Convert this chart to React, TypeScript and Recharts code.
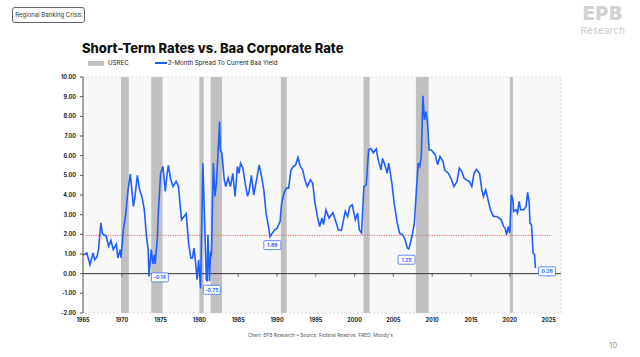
import React from "react";
import {
  ComposedChart,
  Line,
  XAxis,
  YAxis,
  CartesianGrid,
  ReferenceArea,
  ReferenceLine,
  ReferenceDot,
} from "recharts";

const years: number[] = [
  1965.0, 1965.3, 1965.5, 1965.9, 1966.3, 1966.5, 1966.8, 1967.0, 1967.3, 1967.5,
  1968.0, 1968.3, 1968.6, 1968.9, 1969.3, 1969.5, 1969.8, 1969.9, 1970.2, 1970.5,
  1970.8, 1971.1, 1971.5, 1971.7, 1972.0, 1972.3, 1972.6, 1972.9, 1973.2, 1973.4,
  1973.5, 1973.8, 1974.0, 1974.2, 1974.3, 1974.6, 1974.7, 1975.0, 1975.3, 1975.6,
  1975.8, 1976.0, 1976.3, 1976.6, 1977.0, 1977.3, 1977.5, 1977.7, 1978.0, 1978.3,
  1978.6, 1978.9, 1979.1, 1979.3, 1979.5, 1979.7, 1979.9, 1980.15, 1980.45, 1980.6,
  1980.9, 1981.0, 1981.1, 1981.3, 1981.45, 1981.55, 1981.8, 1982.0, 1982.2, 1982.6,
  1982.7, 1982.9, 1983.2, 1983.4, 1983.7, 1984.0, 1984.3, 1984.6, 1984.9, 1985.1,
  1985.3, 1985.6, 1985.9, 1986.2, 1986.4, 1986.7, 1987.0, 1987.4, 1987.7, 1988.0,
  1988.3, 1988.6, 1988.9, 1989.1, 1989.4, 1989.7, 1990.0, 1990.4, 1990.6, 1990.9,
  1991.2, 1991.5, 1991.8, 1992.1, 1992.4, 1992.7, 1993.0, 1993.3, 1993.6, 1993.9,
  1994.3, 1994.6, 1994.9, 1995.2, 1995.5, 1995.8, 1996.0, 1996.3, 1996.7, 1997.2,
  1997.5, 1997.9, 1998.3, 1998.8, 1999.1, 1999.4, 1999.7, 2000.1, 2000.4, 2000.6,
  2000.9, 2001.2, 2001.5, 2001.8, 2002.1, 2002.4, 2002.8, 2003.0, 2003.4, 2003.6,
  2003.9, 2004.2, 2004.4, 2004.8, 2005.1, 2005.5, 2005.8, 2006.2, 2006.5, 2006.8,
  2007.0, 2007.4, 2007.7, 2008.0, 2008.2, 2008.4, 2008.6, 2008.8, 2009.0, 2009.2,
  2009.4, 2009.6, 2009.9, 2010.4, 2010.7, 2011.0, 2011.4, 2011.6, 2012.1, 2012.5,
  2012.8, 2013.2, 2013.5, 2013.8, 2014.1, 2014.4, 2014.8, 2015.1, 2015.4, 2015.7,
  2016.1, 2016.4, 2016.6, 2016.9, 2017.2, 2017.5, 2017.9, 2018.3, 2018.6, 2018.9,
  2019.2, 2019.4, 2019.6, 2019.8, 2020.0, 2020.2, 2020.4, 2020.5, 2020.8, 2021.0,
  2021.2, 2021.4, 2021.8, 2022.1, 2022.3, 2022.5, 2022.6, 2022.8, 2023.0, 2023.2,
  2023.3,
];

const spread: number[] = [
  0.96, 1.0, 1.05, 0.46, 1.05, 0.71, 0.85, 1.22, 2.58, 2.03,
  1.9, 1.39, 1.69, 1.22, 1.5, 0.8, 1.22, 0.8, 2.23, 3.0,
  4.26, 5.06, 3.42, 3.9, 5.0, 4.26, 3.9, 3.25, 1.83, 1.22,
  -0.14, 1.22, 0.5, 0.96, 0.5, 1.9, 3.05, 5.1, 5.45, 4.18,
  4.96, 5.5, 4.8, 4.43, 4.7, 4.43, 3.59, 2.74, 2.9, 3.05,
  1.57, 0.8, 0.8, 1.3, 0.6, -0.3, 0.71, -0.75, 5.62, 3.59,
  -0.3, -0.39, 1.98, -0.39, 1.13, 0.88, 5.62, 3.93, 4.6, 7.73,
  6.3, 6.12, 4.77, 4.43, 4.86, 4.43, 5.1, 3.93, 5.45, 5.1,
  5.62, 5.37, 4.6, 3.93, 4.18, 5.0, 4.0, 4.86, 5.53, 4.96,
  4.26, 3.05, 2.4, 1.88, 2.06, 2.23, 2.3, 2.66, 3.59, 4.1,
  4.35, 4.35, 5.28, 5.45, 5.53, 5.92, 5.45, 5.28, 4.77, 4.43,
  4.77, 4.6, 3.59, 2.91, 2.4, 2.83, 2.5, 3.25, 2.83, 3.1,
  2.74, 2.23, 2.2, 3.17, 2.91, 3.42, 3.5, 2.74, 3.08, 2.23,
  2.06, 4.43, 4.52, 6.29, 6.37, 6.15, 6.34, 5.86, 5.28, 5.86,
  5.53, 5.1, 5.62, 4.6, 3.59, 2.57, 2.06, 1.98, 1.73, 1.3,
  1.25, 1.9, 2.57, 4.43, 5.62, 5.45, 5.96, 9.04, 7.82, 8.24,
  7.66, 6.29, 6.29, 6.04, 5.53, 5.96, 5.7, 5.28, 5.1, 4.77,
  4.43, 4.69, 5.37, 5.2, 4.86, 4.77, 4.69, 4.43, 5.1, 5.3,
  5.1, 4.26, 3.93, 4.26, 3.76, 3.25, 2.91, 2.91, 2.83, 2.74,
  2.4, 2.32, 1.98, 2.4, 2.06, 4.01, 3.76, 3.17, 3.25, 3.08,
  3.68, 3.25, 3.25, 3.42, 4.13, 3.59, 2.57, 2.49, 1.05, 0.96,
  0.28,
];

const recessionStarts: number[] = [1969.9, 1973.8, 1980.0, 1981.45, 1990.5, 2001.15, 2007.9, 2020.0];
const recessionEnds: number[] = [1970.9, 1975.25, 1980.55, 1982.92, 1991.25, 2001.95, 2009.55, 2020.4];

const xTicks: number[] = [1965, 1970, 1975, 1980, 1985, 1990, 1995, 2000, 2005, 2010, 2015, 2020, 2025];
const yTicks: number[] = [-2, -1, 0, 1, 2, 3, 4, 5, 6, 7, 8, 9, 10];

const thresholdValue = 1.95;
const thresholdRange: number[] = [1965.4, 2025.4];

const annotationYears: number[] = [1974.9, 1981.6, 1989.4, 2006.7, 2024.8];
const annotationValues: number[] = [-0.19, -0.82, 1.45, 0.71, 0.12];
const annotationLabels: string[] = ["-0.14", "-0.75", "1.88", "1.25", "0.28"];

const X_DOMAIN: [number, number] = [1965, 2026.6];

const data = years.map((y, i) => ({ year: y, value: spread[i] }));

const BLUE = "#1f5eff";
const FONT = "Inter, 'Noto Sans', sans-serif";

const AnnotationBox = (label: string) => (props: any) => {
  const { cx, cy } = props;
  const w = 17;
  const h = 9;
  return (
    <g>
      <rect x={cx - w / 2} y={cy - h / 2} width={w} height={h} rx={1} fill="#ffffff" stroke="#4f7dff" strokeWidth={0.9} />
      <text x={cx} y={cy + 1.9} textAnchor="middle" fontSize={5} fontWeight={700} fill={BLUE} fontFamily={FONT}>
        {label}
      </text>
    </g>
  );
};

const ZeroTick = (props: any) => {
  const { cx, cy } = props;
  return <line x1={cx} x2={cx} y1={cy} y2={cy + 3} stroke="#444" strokeWidth={0.8} />;
};

export default function App() {
  return (
    <div style={{ position: "absolute", left: 0, top: 0, width: 640, height: 357, background: "#ffffff", fontFamily: FONT, overflow: "hidden" }}>
      {/* Top-left tag */}
      <div
        style={{
          position: "absolute",
          left: 12,
          top: 7,
          width: 71,
          height: 14,
          border: "1px solid #666",
          borderRadius: 3,
          fontSize: 6,
          lineHeight: "14px",
          textAlign: "center",
          color: "#333",
        }}
      >
        Regional Banking Crisis
      </div>

      {/* Logo */}
      <div style={{ position: "absolute", left: 578, top: 4, width: 50, height: 20, textAlign: "center", color: "#d2d2d2", fontSize: 19, fontWeight: 900, letterSpacing: 1, lineHeight: "20px" }}>
        EPB
      </div>
      <div style={{ position: "absolute", left: 578, top: 26, width: 50, height: 10, textAlign: "center", color: "#c8c8c8", fontSize: 9.5, lineHeight: "10px", letterSpacing: 0.3 }}>
        Research
      </div>

      {/* Title */}
      <div style={{ position: "absolute", left: 82, top: 40, fontSize: 13, fontWeight: 800, color: "#111", whiteSpace: "nowrap" }}>
        Short-Term Rates vs. Baa Corporate Rate
      </div>

      {/* Legend */}
      <div style={{ position: "absolute", left: 88, top: 59, height: 8, fontSize: 6.2, color: "#222", whiteSpace: "nowrap", lineHeight: "8px" }}>
        <span style={{ display: "inline-block", width: 16, height: 5, background: "#c0c0c0", verticalAlign: "middle" }} />
        <span style={{ marginLeft: 4, verticalAlign: "middle" }}>USREC</span>
        <span style={{ display: "inline-block", width: 12, height: 2, background: BLUE, verticalAlign: "middle", marginLeft: 26 }} />
        <span style={{ marginLeft: 1, verticalAlign: "middle" }}>3-Month Spread To Current Baa Yield</span>
      </div>

      <div style={{ position: "absolute", left: 0, top: 0 }}>
        <ComposedChart width={640} height={357} data={data} margin={{ top: 77, right: 79, bottom: 24, left: 0 }}>
          <CartesianGrid horizontal={false} vertical={false} fill="#f8f8f8" />
          {recessionStarts.map((s, i) => (
            <ReferenceArea key={"r" + i} x1={s} x2={recessionEnds[i]} y1={-2} y2={10} fill="#c0c0c0" fillOpacity={1} stroke="none" ifOverflow="hidden" />
          ))}
          <ReferenceArea x1={X_DOMAIN[0]} x2={X_DOMAIN[1]} y1={-2} y2={10} fill="none" stroke="#cfcfcf" strokeDasharray="2 2" strokeWidth={0.8} />
          <XAxis
            type="number"
            dataKey="year"
            domain={X_DOMAIN}
            ticks={xTicks}
            allowDataOverflow
            height={20}
            tickLine={false}
            axisLine={false}
            tickSize={3}
            tickMargin={2}
            tick={{ fontSize: 5.5, fontWeight: 700, fill: "#222", fontFamily: FONT }}
          />
          <YAxis
            type="number"
            domain={[-2, 10]}
            ticks={yTicks}
            allowDataOverflow
            width={83}
            tickSize={3}
            tickMargin={4}
            axisLine={{ stroke: "#555", strokeWidth: 1 }}
            tickLine={{ stroke: "#555" }}
            tickFormatter={(v: number) => v.toFixed(2)}
            tick={{ fontSize: 5.5, fontWeight: 700, fill: "#222", fontFamily: FONT }}
          />
          <ReferenceLine y={0} stroke="#333" strokeWidth={1} />
          {xTicks.slice(1).map((t) => (
            <ReferenceDot key={"zt" + t} x={t} y={0} shape={ZeroTick} ifOverflow="visible" />
          ))}
          <ReferenceLine
            segment={[
              { x: thresholdRange[0], y: thresholdValue },
              { x: thresholdRange[1], y: thresholdValue },
            ]}
            stroke="#e06a6a"
            strokeWidth={1}
            strokeDasharray="1.2 1.2"
          />
          <Line type="linear" dataKey="value" stroke={BLUE} strokeWidth={1.6} dot={false} isAnimationActive={false} />
          {annotationLabels.map((lab, i) => (
            <ReferenceDot key={"a" + i} x={annotationYears[i]} y={annotationValues[i]} shape={AnnotationBox(lab)} ifOverflow="visible" />
          ))}
        </ComposedChart>
      </div>

      {/* Footer */}
      <div style={{ position: "absolute", left: 248, top: 332, fontSize: 4.8, color: "#555", whiteSpace: "nowrap" }}>
        Chart: EPB Research • Source: Federal Reserve, FRED, Moody's
      </div>
      <div style={{ position: "absolute", left: 609, top: 340, fontSize: 8, color: "#999" }}>10</div>
    </div>
  );
}
